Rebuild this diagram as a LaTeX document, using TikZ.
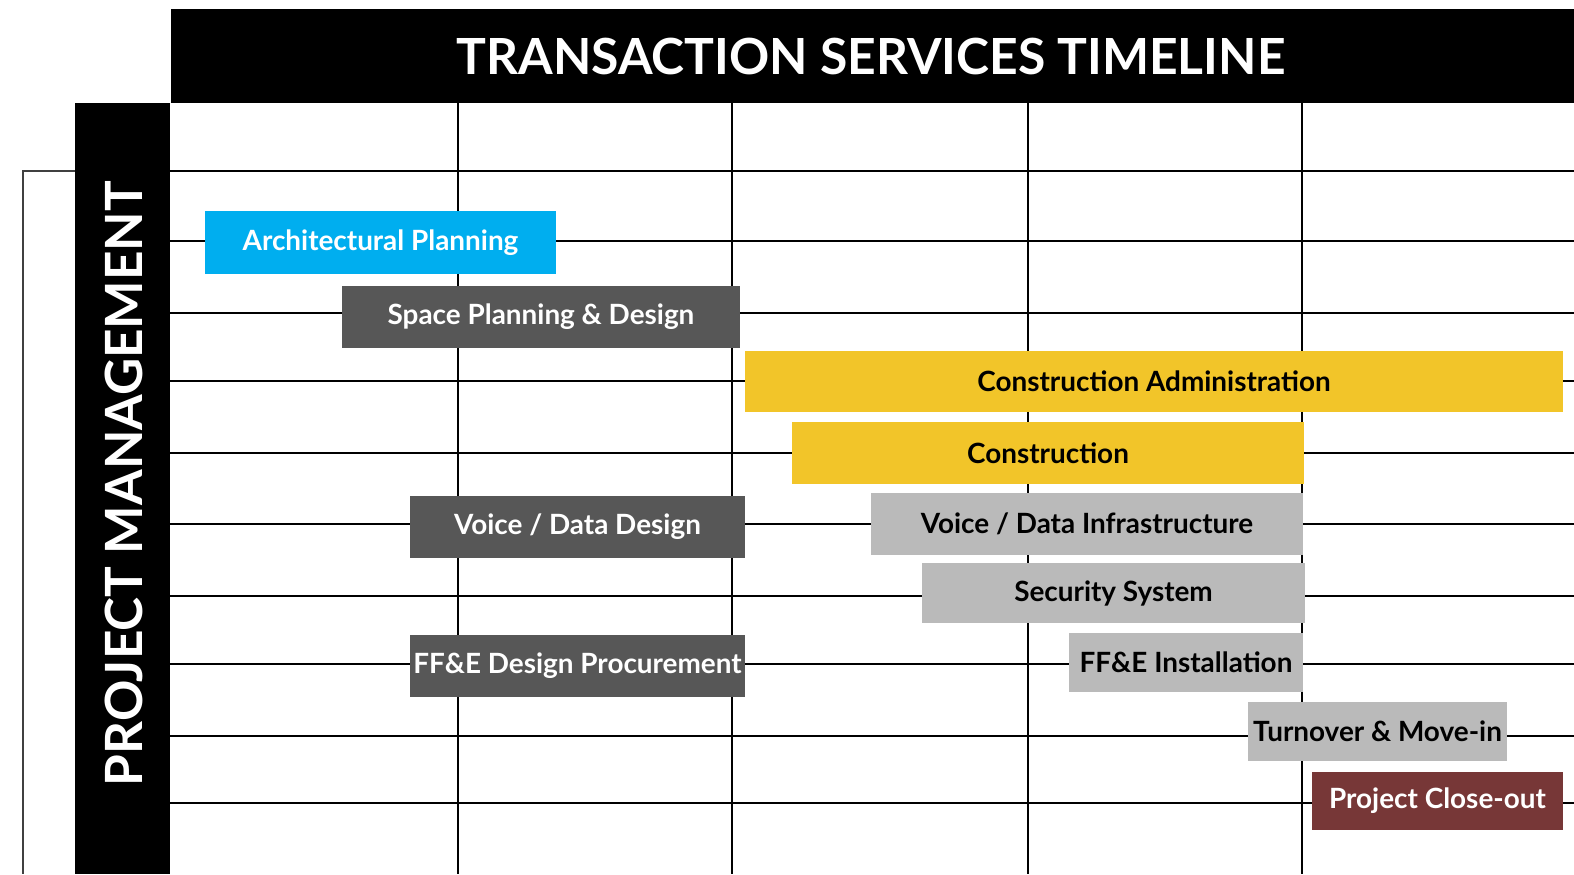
\documentclass[tikz,border=0pt]{standalone}
\usepackage{fontspec}
\setmainfont{Lato}

\definecolor{archblue}{HTML}{00AEEF}
\definecolor{darkbar}{HTML}{575757}
\definecolor{yellowbar}{HTML}{F2C529}
\definecolor{lightbar}{HTML}{BABABA}
\definecolor{closebar}{HTML}{773737}

\tikzset{
  bar/.style={inner sep=0pt, font=\fontsize{28}{31}\selectfont\bfseries, minimum height=62bp},
  darkbox/.style={bar, fill=darkbar, text=white},
  lightbox/.style={bar, fill=lightbar, text=black},
  yellowbox/.style={bar, fill=yellowbar, text=black},
  gridline/.style={line width=2.8bp, color=black}
}

\begin{document}
\begin{tikzpicture}[x=1bp, y=-1bp]
     \useasboundingbox (0,0) rectangle (1574,874);
     % grid
     \draw[line width=2.2bp, color=black!75] (75,171) -- (23,171) -- (23,874);
     \foreach \y in {171,241,313,381,453,524,596,664,736,803}
        \draw[gridline] (170,\y) -- (1574,\y);
     \foreach \x in {458,732,1028,1302}
        \draw[gridline] (\x,103) -- (\x,874);

     % headers
     \node[fill=black, inner sep=0pt, minimum width=1403bp, minimum height=94bp] (head) at (872.5,56) {};
     \node[text=white, font=\fontsize{50}{56}\selectfont\bfseries] (title) at (871,56) {TRANSACTION SERVICES TIMELINE};
     \fill[black] (75,103) rectangle (170,874);
     \node[text=white, rotate=90, font=\fontsize{51.5}{56}\selectfont\bfseries] (pm) at (124,483.5) {PROJECT MANAGEMENT};

     % bars
     \node[bar, fill=archblue, text=white, minimum width=351bp, minimum height=63bp] (arch) at (380.5,242.5) {Architectural Planning};
     \node[darkbox, minimum width=398bp] (space) at (541,317) {Space Planning \& Design};
     \node[yellowbox, minimum width=818bp, minimum height=61bp] (admin) at (1154,381.5) {Construction Administration};
     \node[yellowbox, minimum width=512bp] (constr) at (1048,453) {Construction};
     \node[darkbox, minimum width=335bp] (vdd) at (577.5,527) {Voice / Data Design};
     \node[lightbox, minimum width=432bp] (vdi) at (1087,524) {Voice / Data Infrastructure};
     \node[lightbox, minimum width=383bp, minimum height=60bp] (secur) at (1113.5,593) {Security System};
     \node[darkbox, minimum width=335bp] (ffed) at (577.5,666) {FF\&E Design Procurement};
     \node[lightbox, minimum width=234bp, minimum height=59bp] (ffei) at (1186,662.5) {FF\&E Installation};
     \node[lightbox, minimum width=259bp, minimum height=59bp] (turn) at (1377.5,731.5) {Turnover \& Move-in};
     \node[bar, fill=closebar, text=white, minimum width=251bp, minimum height=58bp] (close) at (1437.5,801) {Project Close-out};
\end{tikzpicture}
\end{document}
